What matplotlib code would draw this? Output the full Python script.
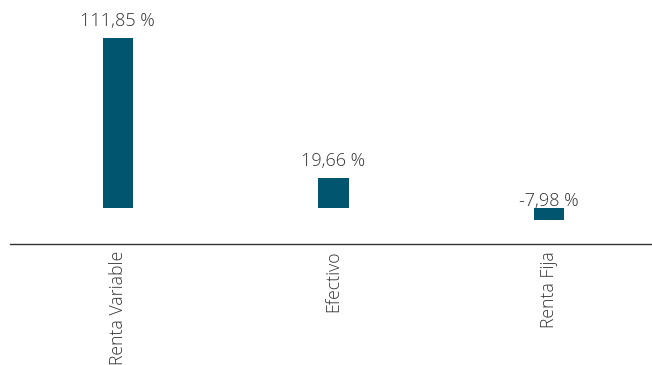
import matplotlib
matplotlib.use('Agg')
import matplotlib.pyplot as plt

plt.rcParams['font.family'] = ['Open Sans', 'DejaVu Sans']

# data
categories = ['Renta Variable', 'Efectivo', 'Renta Fija']
values = [111.85, 19.66, -7.98]
labels = ['111,85 %', '19,66 %', '-7,98 %']

bar_color = '#02556f'
text_color = '#333333'

fig = plt.figure(figsize=(6.52, 3.65), dpi=100)
ax = fig.add_axes([10 / 652, 121 / 365, 647 / 652, 244 / 365])

x = range(len(categories))
ax.bar(x, values, width=0.14, color=bar_color, zorder=2)

# value labels above bars (or just above zero for negatives)
for i, (v, lab) in enumerate(zip(values, labels)):
    if v >= 0:
        ax.annotate(lab, (i, v), xytext=(0, 6), textcoords='offset points',
                    ha='center', va='bottom', fontsize=13, color=text_color,
                    fontweight='light')
    else:
        ax.annotate(lab, (i, 0), xytext=(0, 5), textcoords='offset points',
                    ha='center', va='center', fontsize=13, color=text_color,
                    fontweight='light')

ax.set_xlim(-0.5, 2.5)
ax.set_ylim(-23.7, 136.8)
ax.set_xticks(list(x))
ax.set_xticklabels(categories, rotation=90, fontsize=12.7, color=text_color,
                   fontweight='light')
ax.tick_params(axis='x', length=0, pad=5)
ax.set_yticks([])
for side in ['top', 'right', 'left']:
    ax.spines[side].set_visible(False)
ax.spines['bottom'].set_color('#333333')
ax.spines['bottom'].set_linewidth(1)

fig.savefig('out.png', dpi=100)
